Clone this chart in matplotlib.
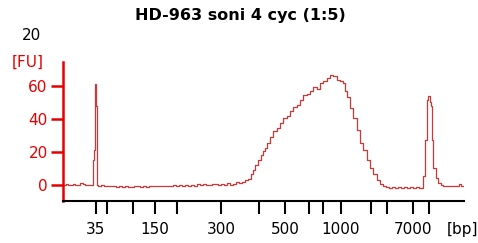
import matplotlib
matplotlib.use("Agg")
import matplotlib.pyplot as plt

# Electropherogram trace: migration position (arbitrary time units) and fluorescence [FU]
time_left = [1, 3, 5, 8, 10, 12, 14, 17, 20, 22, 25, 28]
fu_left = [0.3, 0.8, 0.0, 0.2, 1.0, 0.3, 0.0, 1.2, 1.0, 0.3, 0.5, 0.2]

time_marker_low = [30, 31, 32, 33, 33.7, 34.3]
fu_marker_low = [15.6, 21.6, 61.0, 47.6, 40.6, 0.5]

time_mid = [35, 38, 41, 44, 47, 50, 53, 56, 59, 62, 65, 68, 71, 74, 77, 80,
            83, 86, 89, 92, 95, 98, 101, 104, 107, 110, 113, 116, 119, 122,
            125, 128, 131, 134, 137, 140, 143, 146, 149, 152, 155, 158, 161,
            164, 167, 170, 173, 176]
fu_mid = [-0.3, 0.5, -0.6, -0.2, -0.6, -0.4, -1.2, -0.5, -1.0, -0.4, -0.8,
          -0.8, -0.5, -0.4, -0.8, -0.3, -0.7, -0.2, -0.6, -0.3, -0.6, -0.2,
          -0.6, -0.2, -0.5, 0.0, -0.4, 0.2, -0.3, 0.5, -0.1, 0.3, -0.2, 0.7,
          0.3, 1.0, 0.2, 0.4, 1.0, 0.6, 0.5, 0.8, 0.4, 1.3, 0.5, 1.0, 1.8, 1.2]

time_smear = [179, 182, 185, 188, 190, 192, 195, 198, 200, 202, 204, 207, 210,
              214, 217, 220, 224, 227, 230, 234, 237, 240, 244, 247, 250, 254,
              257, 260, 264, 267, 270, 274, 277, 280, 282, 284, 287, 290, 294,
              297, 300, 304, 307, 310, 314, 317, 320]
fu_smear = [2.0, 3.0, 4.0, 6.6, 9.5, 12.6, 15.6, 18.5, 20.6, 22.8, 25.8, 29.4,
            32.6, 34.8, 37.8, 40.8, 42.0, 44.6, 47.0, 48.6, 51.6, 54.6, 55.0,
            57.2, 59.6, 58.0, 61.6, 63.2, 64.6, 66.6, 66.0, 63.6, 63.0, 61.6,
            57.0, 53.6, 46.8, 40.8, 33.6, 25.8, 21.6, 15.6, 10.6, 6.6, 3.2,
            0.6, -0.4]

time_right = [323, 326, 329, 332, 335, 338, 341, 344, 347, 350, 353, 356, 358]
fu_right = [-1.2, -1.5, -1.2, -1.6, -1.2, -1.5, -1.0, -1.5, -1.2, -1.8, -1.2, -1.5, -1.3]

time_marker_high = [360, 362, 363.5, 364.3, 365.3, 366.5, 367.5, 368.7, 370.3,
                    373, 375.3, 378, 380]
fu_marker_high = [5.6, 27.6, 30.6, 51.6, 54.0, 50.0, 47.6, 27.6, 10.6, 4.6,
                  1.2, 0.2, -0.4]

time_tail = [383, 386, 389, 392, 395, 396, 398, 399.5]
fu_tail = [-0.4, -0.4, -0.4, -0.4, -0.4, 0.6, -0.2, -0.2]

# Ladder sizes and their migration positions
ladder_pos = [32.7, 44, 70, 92, 114, 158, 196, 222, 246, 260, 278, 308, 324, 350, 366]
ladder_bp = ["35", "", "", "150", "", "300", "", "500", "", "", "1000", "", "", "7000", ""]

y_ticks = [0, 20, 40, 60]

title = "HD-963 soni 4 cyc (1:5)"

time = (time_left + time_marker_low + time_mid + time_smear + time_right
        + time_marker_high + time_tail)
fu = (fu_left + fu_marker_low + fu_mid + fu_smear + fu_right
      + fu_marker_high + fu_tail)

RED = "#e60000"
TRACE = "#cc3838"

fig = plt.figure(figsize=(4.78, 2.43), dpi=100)
ax = fig.add_axes([63 / 478, 1 - 201 / 243, 401 / 478, 139 / 243])

ax.plot(time, fu, color=TRACE, lw=0.9, drawstyle="steps-post")

ax.set_xlim(0, 401)
ax.set_ylim(-9.4, 74.4)

for s in ["top", "right"]:
    ax.spines[s].set_visible(False)
ax.spines["left"].set_color(RED)
ax.spines["left"].set_linewidth(1.8)
ax.spines["bottom"].set_color("black")
ax.spines["bottom"].set_linewidth(1.5)

ax.set_yticks(y_ticks)
ax.set_yticklabels([str(v) for v in y_ticks])
ax.tick_params(axis="y", colors=RED, length=9, width=1.8, labelsize=11, pad=2)
ax.set_xticks(ladder_pos)
ax.set_xticklabels(ladder_bp)
ax.tick_params(axis="x", colors="black", length=9, width=1.5, labelsize=11, pad=6)

fig.text(240 / 478, 1 - 15 / 243, title, ha="center", va="center",
         fontsize=11.5, fontweight="bold")
fig.text(32 / 478, 1 - 35 / 243, "20", ha="center", va="center", fontsize=11)
fig.text(28 / 478, 1 - 62 / 243, "[FU]", ha="center", va="center", fontsize=11, color=RED)
fig.text(462 / 478, 1 - 229 / 243, "[bp]", ha="center", va="center", fontsize=11)

fig.savefig("out.png", dpi=100)
